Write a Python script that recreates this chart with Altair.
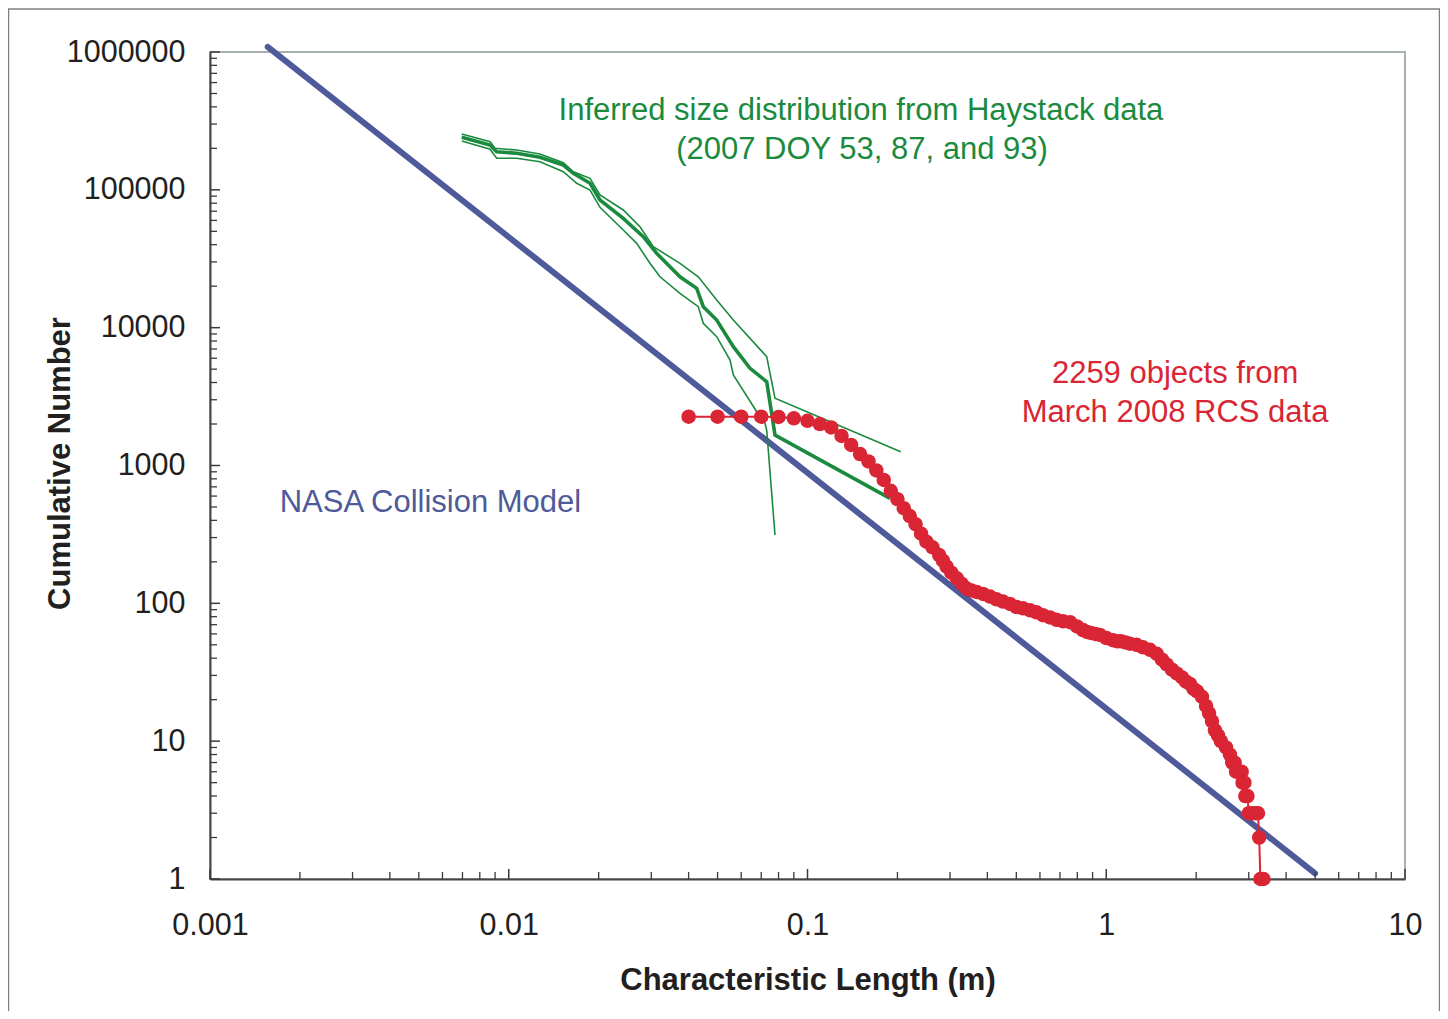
import altair as alt
import pandas as pd

# ---------------- data ----------------
# NASA collision model (straight power law in log-log)
nasa_L = [0.00156, 5.0]
nasa_N = [1090000, 1.1]

# Haystack inferred size distribution: upper bound, central, lower bound
hay_up_L = [0.00696, 0.00866, 0.00899, 0.01063, 0.01272, 0.01523, 0.01645, 0.01871, 0.02020, 0.02417,
            0.02750, 0.03046, 0.03743, 0.04310, 0.04967, 0.05646, 0.07302, 0.07784, 0.2051]
hay_up_N = [254200, 223500, 200100, 194500, 182000, 157300, 135300, 121300, 91700, 71400,
            54000, 38700, 29300, 23400, 15870, 11360, 6155, 3073, 1259]

hay_mid_L = [0.00696, 0.00866, 0.00911, 0.01063, 0.01272, 0.01523, 0.01645, 0.01871, 0.02020, 0.02417,
             0.02820, 0.03127, 0.03743, 0.04257, 0.04479, 0.04967, 0.05646, 0.06420, 0.07302, 0.07784, 0.1889]
hay_mid_N = [240500, 211500, 189000, 184100, 172200, 151400, 131800, 111500, 84400, 62100,
             45700, 34600, 23400, 19300, 14190, 11360, 7275, 5070, 4053, 1664, 578]

hay_low_L = [0.00696, 0.00866, 0.00911, 0.01063, 0.01272, 0.01523, 0.01688, 0.01871, 0.02020, 0.02417,
             0.02681, 0.02969, 0.03208, 0.03743, 0.04310, 0.04479, 0.04967, 0.05504, 0.05646, 0.06761,
             0.07207, 0.07302, 0.07784]
hay_low_N = [226100, 196800, 169400, 169400, 160000, 135300, 111500, 99700, 74700, 51100,
             40900, 29300, 23400, 17750, 14190, 10750, 8600, 5826, 4533, 2457,
             2024, 1809, 313]

# March 2008 RCS data (2259 objects)
rcs_L = [0.040, 0.050, 0.060, 0.070, 0.080, 0.090, 0.100, 0.110, 0.120, 0.130,
         0.140, 0.150, 0.160, 0.170, 0.180, 0.190, 0.200, 0.210, 0.220, 0.230,
         0.240, 0.250, 0.262, 0.276, 0.284, 0.292, 0.303, 0.316, 0.328, 0.341, 0.354,
         0.368, 0.387, 0.408, 0.429, 0.451, 0.476, 0.501, 0.526, 0.556, 0.584,
         0.614, 0.648, 0.682, 0.717, 0.757, 0.798, 0.836, 0.862, 0.889, 0.920, 0.953, 1.002,
         1.053, 1.090, 1.121, 1.160, 1.200, 1.263, 1.327, 1.401, 1.476, 1.537, 1.593, 1.660,
         1.722, 1.793, 1.850, 1.907, 1.960, 2.013, 2.092, 2.158, 2.208, 2.259, 2.312, 2.366,
         2.42, 2.516, 2.595, 2.64, 2.69, 2.72, 2.78, 2.84, 2.86, 2.90,
         2.92, 2.97, 3.00, 3.08, 3.16, 3.22, 3.25, 3.28, 3.36]
rcs_N = [2259, 2259, 2259, 2259, 2250, 2200, 2110, 2000, 1890, 1640,
         1410, 1210, 1070, 920, 785, 655, 570, 490, 430, 375,
         320, 280, 255, 224, 204, 185, 167, 152, 139, 128, 124,
         121, 117, 112, 107, 103, 99, 94, 92, 89, 86,
         82, 79, 76, 74, 73, 68, 64, 62, 61, 60, 59, 56,
         54, 53, 53, 52, 51, 50, 48, 46, 43, 39, 36, 33,
         31, 29, 27, 26, 24, 23, 21, 18, 16, 14, 12, 11,
         10, 9, 8, 7, 7, 6, 6, 6, 5, 5,
         4, 4, 3, 3, 3, 3, 2, 1, 1]

# annotations
ann_text = ["Inferred size distribution from Haystack data", "(2007 DOY 53, 87, and 93)",
            "2259 objects from", "March 2008 RCS data", "NASA Collision Model"]
ann_L = [0.1510, 0.1522, 1.70, 1.70, 0.00547]
ann_N = [321000, 167400, 3967, 2068, 460]
ann_kind = ["green", "green", "red", "red", "blue"]

# axis ticks and labels
x_major = [0.001, 0.01, 0.1, 1, 10]
y_major = [1, 10, 100, 1000, 10000, 100000, 1000000]
minor_mult = [2, 3, 4, 5, 6, 7, 8, 9]
x_minor = [m * d for d in [0.001, 0.01, 0.1, 1] for m in minor_mult]
y_minor = [m * d for d in [1, 10, 100, 1000, 10000, 100000] for m in minor_mult]

# ---------------- style ----------------
GREEN = "#1a8a3e"
RED = "#d92534"
BLUE = "#4e5a9a"
TXT = "#231f20"
FONT = "Liberation Sans"
W, H = 1195, 827
color_map = {"green": GREEN, "red": RED, "blue": BLUE}

xs = alt.Scale(type="log", domain=[0.001, 10], nice=False)
ys = alt.Scale(type="log", domain=[1, 1000000], nice=False)

x_axis = alt.Axis(values=x_major, labelExpr="'' + datum.value", ticks=False, tickSize=0, grid=False,
                  domainColor="#454545", domainWidth=2, labelFont=FONT, labelFontSize=30.5,
                  labelColor=TXT, labelPadding=31, labelFlush=False, labelOverlap=False,
                  title="Characteristic Length (m)", titleFont=FONT, titleFontSize=31,
                  titleFontWeight="bold", titleColor=TXT, titleBaseline="alphabetic", titleY=110)
y_axis = alt.Axis(values=y_major, labelExpr="'' + datum.value", ticks=False, tickSize=0, grid=False,
                  domainColor="#454545", domainWidth=2, labelFont=FONT, labelFontSize=30.5,
                  labelColor=TXT, labelPadding=25, labelFlush=False, labelOverlap=False,
                  title="Cumulative Number", titleFont=FONT, titleFontSize=31,
                  titleFontWeight="bold", titleColor=TXT, titleBaseline="alphabetic",
                  titleAngle=270, titleAlign="center", titleX=-141, titleY=411)


def X(f):
    return alt.X(f"{f}:Q", scale=xs, axis=x_axis)


def Y(f):
    return alt.Y(f"{f}:Q", scale=ys, axis=y_axis)


frame = alt.Chart(pd.DataFrame({"a": [0]})).mark_rect(
    fillOpacity=0, stroke="#808080", strokeWidth=1.5
).encode(x=alt.value(-201.5), x2=alt.value(1229.5), y=alt.value(-43), y2=alt.value(1000))

nasa = alt.Chart(pd.DataFrame({"L": nasa_L, "N": nasa_N})).mark_line(
    color=BLUE, strokeWidth=6, strokeCap="round"
).encode(x=X("L"), y=Y("N"))

hay_up = alt.Chart(pd.DataFrame({"L": hay_up_L, "N": hay_up_N})).mark_line(
    color=GREEN, strokeWidth=1.6
).encode(x=X("L"), y=Y("N"))
hay_mid = alt.Chart(pd.DataFrame({"L": hay_mid_L, "N": hay_mid_N})).mark_line(
    color=GREEN, strokeWidth=3.6
).encode(x=X("L"), y=Y("N"))
hay_low = alt.Chart(pd.DataFrame({"L": hay_low_L, "N": hay_low_N})).mark_line(
    color=GREEN, strokeWidth=1.6
).encode(x=X("L"), y=Y("N"))

rcs_df = pd.DataFrame({"L": rcs_L, "N": rcs_N})
rcs_line = alt.Chart(rcs_df).mark_line(color=RED, strokeWidth=2).encode(x=X("L"), y=Y("N"))
rcs_pts = alt.Chart(rcs_df).mark_circle(color=RED, size=210, opacity=1).encode(x=X("L"), y=Y("N"))

ann_df = pd.DataFrame({"L": ann_L, "N": ann_N, "t": ann_text,
                       "c": [color_map[k] for k in ann_kind]})
ann = alt.Chart(ann_df).mark_text(
    font=FONT, fontSize=31, align="center", baseline="alphabetic"
).encode(x=X("L"), y=Y("N"), text="t:N", color=alt.Color("c:N", scale=None))

TICK = "#3a3a3a"
xt_maj = alt.Chart(pd.DataFrame({"v": x_major})).mark_rule(color=TICK, strokeWidth=1.5).encode(
    x=X("v"), y=alt.value(H), y2=alt.value(H - 10))
xt_min = alt.Chart(pd.DataFrame({"v": x_minor})).mark_rule(color=TICK, strokeWidth=1.3).encode(
    x=X("v"), y=alt.value(H), y2=alt.value(H - 7))
yt_maj = alt.Chart(pd.DataFrame({"v": y_major})).mark_rule(color=TICK, strokeWidth=1.5).encode(
    y=Y("v"), x=alt.value(0), x2=alt.value(10))
yt_min = alt.Chart(pd.DataFrame({"v": y_minor})).mark_rule(color=TICK, strokeWidth=1.3).encode(
    y=Y("v"), x=alt.value(0), x2=alt.value(7))

chart = alt.layer(
    frame, nasa, hay_up, hay_mid, hay_low, rcs_line, rcs_pts, ann,
    xt_maj, xt_min, yt_maj, yt_min
).properties(
    width=W, height=H,
    autosize=alt.AutoSizeParams(type="none"),
    padding={"left": 202, "top": 44, "right": 35, "bottom": 132},
    background="white",
).configure_view(stroke="#a8b0b0", strokeWidth=2)

chart.save("out.html", embed_options={"renderer": "svg", "actions": False})
